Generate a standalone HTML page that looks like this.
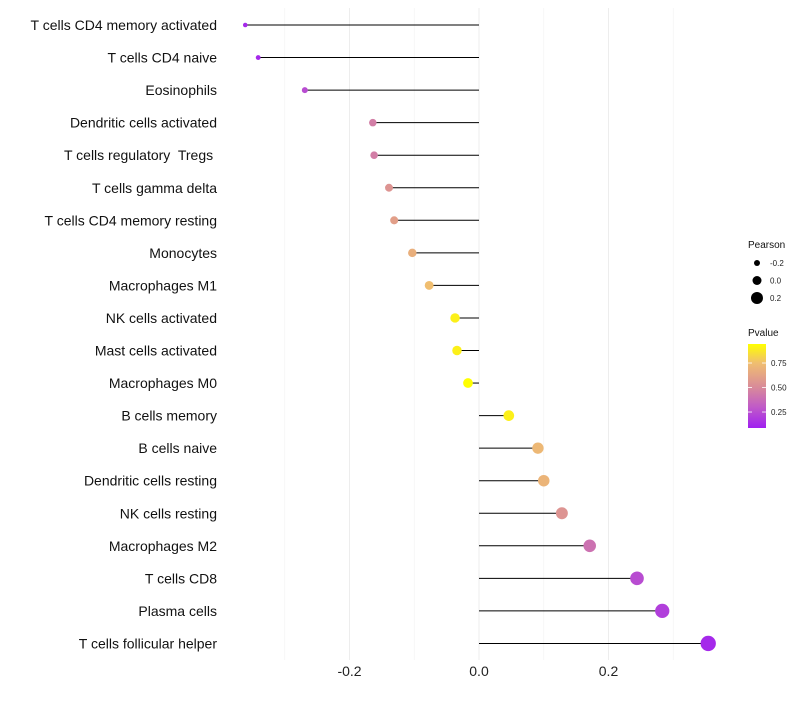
<!DOCTYPE html>
<html><head><meta charset="utf-8"><style>
body{margin:0;background:#fff;font-family:"Liberation Sans",sans-serif;}
text{white-space:pre;}
</style></head><body>
<svg id="chart" width="800" height="700" xmlns="http://www.w3.org/2000/svg" font-family="Liberation Sans, sans-serif"></svg>
<script>
const categories=["T cells CD4 memory activated","T cells CD4 naive","Eosinophils","Dendritic cells activated","T cells regulatory  Tregs ","T cells gamma delta","T cells CD4 memory resting","Monocytes","Macrophages M1","NK cells activated","Mast cells activated","Macrophages M0","B cells memory","B cells naive","Dendritic cells resting","NK cells resting","Macrophages M2","T cells CD8","Plasma cells","T cells follicular helper"];
const pearson=[-0.361,-0.341,-0.269,-0.164,-0.162,-0.139,-0.131,-0.103,-0.077,-0.037,-0.034,-0.017,0.046,0.091,0.100,0.128,0.171,0.244,0.283,0.354];
const pvalue=[0.12,0.12,0.25,0.45,0.45,0.55,0.6,0.68,0.75,0.9,0.9,0.95,0.9,0.72,0.7,0.55,0.4,0.25,0.2,0.12];
const xTicks=[-0.2,0.0,0.2];
const xTickLabels=["-0.2","0.0","0.2"];
const gridMinor=[-0.3,-0.1,0.1,0.3];
const sizeLegend=[-0.2,0.0,0.2];
const colorLegend=[0.25,0.5,0.75];

const svg=document.getElementById('chart');
const NS="http://www.w3.org/2000/svg";
function mk(t,a,p){const e=document.createElementNS(NS,t);for(const k in a)e.setAttribute(k,a[k]);(p||svg).appendChild(e);return e;}
const x=v=>479+v*647.5;
const y=i=>25+i*32.55;
const r=v=>5+v*7.5;
const stops=[[0.087,[160,32,240]],[0.3,[192,90,200]],[0.5,[216,138,154]],[0.75,[240,190,112]],[0.944,[255,255,0]]];
function col(p){if(p<=stops[0][0])return 'rgb('+stops[0][1]+')';for(let i=1;i<stops.length;i++){if(p<=stops[i][0]){const a=stops[i-1],b=stops[i],t=(p-a[0])/(b[0]-a[0]);return 'rgb('+a[1].map((c,j)=>Math.round(c+(b[1][j]-c)*t)).join(',')+')';}}return 'rgb('+stops[stops.length-1][1]+')';}

gridMinor.forEach(v=>{const l=mk('line',{x1:x(v),x2:x(v),y1:8,y2:660,stroke:'#f4f4f4','stroke-width':0.8});

});
xTicks.forEach((v,i)=>{const l=mk('line',{x1:x(v),x2:x(v),y1:8,y2:660,stroke:'#ededed','stroke-width':1});


const t=mk('text',{x:x(v),y:676,'text-anchor':'middle','font-size':14,fill:'#222'});t.textContent=xTickLabels[i];

});

categories.forEach((c,i)=>{
const t=mk('text',{x:217,y:y(i)+5,'text-anchor':'end','font-size':14,fill:'#111'});t.textContent=c;


const l=mk('line',{x1:x(0),x2:x(pearson[i]),y1:y(i),y2:y(i),stroke:'#000','stroke-width':1});


const d=mk('circle',{cx:x(pearson[i]),cy:y(i),r:r(pearson[i]),fill:col(pvalue[i])});


});

let t=mk('text',{x:748,y:248,'font-size':10,fill:'#111'});t.textContent='Pearson';


sizeLegend.forEach((v,i)=>{const cy=263+i*17.5;
const c=mk('circle',{cx:757,cy:cy,r:r(v)-0.5,fill:'#000'});


const tt=mk('text',{x:770,y:cy+3,'font-size':8,fill:'#222'});tt.textContent=v===0?'0.0':v.toFixed(1);

});

t=mk('text',{x:748,y:336,'font-size':10,fill:'#111'});t.textContent='Pvalue';


const defs=mk('defs',{});const g=mk('linearGradient',{id:'pg',x1:0,y1:1,x2:0,y2:0},defs);
stops.forEach(s=>mk('stop',{offset:((s[0]-0.087)/(0.944-0.087)),'stop-color':'rgb('+s[1]+')'},g));
const bar=mk('rect',{x:748,y:344,width:18,height:84,fill:'url(#pg)'});


colorLegend.forEach(v=>{const cy=428-(v-0.087)/(0.944-0.087)*84;
mk('line',{x1:748,x2:752,y1:cy,y2:cy,stroke:'#fff','stroke-width':0.8});mk('line',{x1:762,x2:766,y1:cy,y2:cy,stroke:'#fff','stroke-width':0.8});
const tt=mk('text',{x:771,y:cy+3,'font-size':8,fill:'#222'});tt.textContent=v.toFixed(2);

});
</script>
</body></html>
